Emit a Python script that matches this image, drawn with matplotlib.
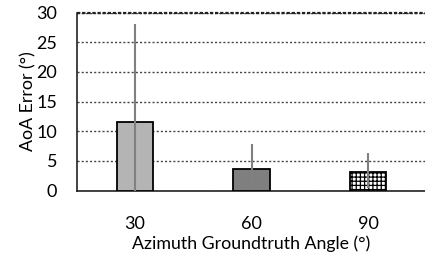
import matplotlib
matplotlib.use("Agg")
import matplotlib.pyplot as plt
import numpy as np

categories = ["30", "60", "90"]
values = [11.5, 3.6, 3.2]
err_low = [11.5, 2.6, 2.75]
err_high = [16.6, 4.2, 3.1]
y_ticks = [0, 5, 10, 15, 20, 25, 30]

plt.rcParams['font.family'] = ['Lato', 'DejaVu Sans']
plt.rcParams['hatch.linewidth'] = 0.9
plt.rcParams['hatch.color'] = '#b0b0b0'

fig = plt.figure(figsize=(4.25, 2.6), dpi=100)
W, H = 425, 260
left, right, top, bottom = 76.75, 426.25, 12.5, 190.7
ax = fig.add_axes([left / W, 1 - bottom / H, (right - left) / W, (bottom - top) / H])

x = np.arange(len(categories))
faces = ['#b4b4b4', '#7f7f7f', 'white']
hatches = [None, None, '++++']
for i in range(len(categories)):
    ax.bar(x[i], values[i], width=0.314, color=faces[i], edgecolor='black',
           linewidth=1.3, hatch=hatches[i], zorder=3)
ax.errorbar(x, values, yerr=[err_low, err_high], fmt='none', ecolor='#808080',
            elinewidth=1.5, capsize=0, zorder=4)

ax.set_xlim(-0.5, 2.5)
ax.set_ylim(0, 30)
ax.set_yticks(y_ticks)
ax.set_xticks(x)
ax.set_xticklabels(categories)
ax.yaxis.grid(True, linestyle=(0, (1.5, 1.5)), color='#444444', linewidth=1.0, zorder=0)
ax.set_axisbelow(True)
for s in ['top', 'right']:
    ax.spines[s].set_visible(False)
ax.spines['left'].set_color('#222222')
ax.spines['bottom'].set_color('#222222')
ax.spines['left'].set_linewidth(1.2)
ax.spines['bottom'].set_linewidth(1.2)
ax.axhline(30, color='#222222', linestyle=(0, (1.5, 0.8)), linewidth=1.6, zorder=2, clip_on=False)
ax.tick_params(axis='both', length=0, labelsize=13, colors='black')
ax.tick_params(axis='y', pad=14)
ax.tick_params(axis='x', pad=18)
ax.set_ylabel('AoA Error (°)', fontsize=12.8, labelpad=0)
ax.set_xlabel('Azimuth Groundtruth Angle (°)', fontsize=12.8, labelpad=3)

fig.savefig('out.png', dpi=100)
